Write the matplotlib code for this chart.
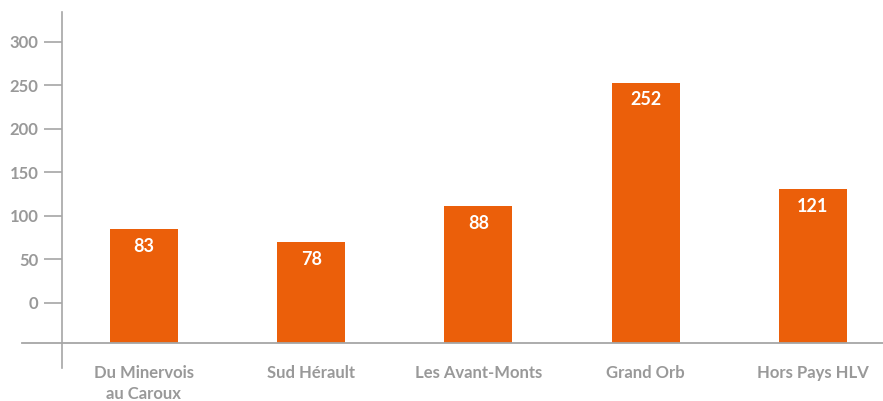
import matplotlib
matplotlib.use("Agg")
from matplotlib import pyplot as plt

plt.rcParams['font.family'] = ['Lato', 'DejaVu Sans']

categories = ['Du Minervois\nau Caroux', 'Sud Hérault', 'Les Avant-Monts',
              'Grand Orb', 'Hors Pays HLV']
# bar heights as drawn against the axis scale
heights = [85, 70, 111, 253, 131]
# value labels printed on the bars
labels = ['83', '78', '88', '252', '121']
yticks = [0, 50, 100, 150, 200, 250, 300]
base = -46

orange = '#EB5F0A'
grey_txt = '#999999'
grey_line = '#A6A6A6'

fig = plt.figure(figsize=(8.83, 4.01), dpi=100)
ax = fig.add_axes([62 / 883, 1 - 368 / 401, 1 - 62 / 883, 356 / 401])

x = list(range(len(categories)))
ax.bar(x, [h - base for h in heights], bottom=base, width=0.407, color=orange, zorder=2)

for xi, h, lab in zip(x, heights, labels):
    ax.annotate(lab, (xi, h), xytext=(0, -12.5), textcoords='offset points',
                ha='center', va='center', color='white', fontsize=13,
                fontweight='bold')

for xi, cat in zip(x, categories):
    ax.annotate(cat, (xi, base), xytext=(0, -16), textcoords='offset points',
                ha='center', va='top', color=grey_txt, fontsize=12,
                fontweight='bold', linespacing=1.4)

ax.set_xlim(-0.49, 4.42)
ax.set_ylim(-75, 334)
ax.set_yticks(yticks)
ax.set_xticks([])
ax.tick_params(axis='y', length=13, width=1.2, color=grey_line, pad=4,
               labelcolor=grey_txt, labelsize=12)
for lab in ax.get_yticklabels():
    lab.set_fontweight('bold')

for s in ['top', 'right', 'bottom']:
    ax.spines[s].set_visible(False)
ax.spines['left'].set_color(grey_line)
ax.spines['left'].set_linewidth(1.2)

ax.axhline(base, xmin=-40 / 821, xmax=1, color=grey_line, lw=1.3,
           clip_on=False, zorder=3)

fig.savefig('out.png', dpi=100)
